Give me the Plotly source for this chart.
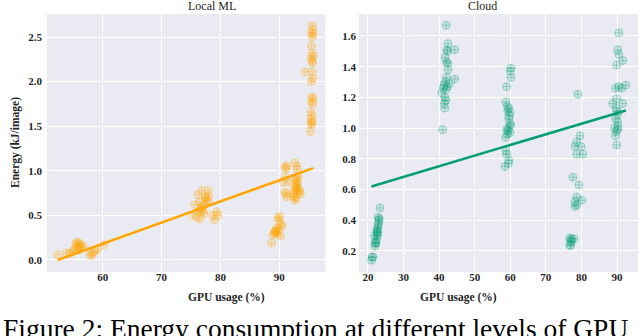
import plotly.graph_objects as go

# ---------------- data ----------------
local_x = [52.3, 53.8, 54.4, 54.9, 55.2, 55.4, 55.6, 55.7, 55.9, 56.0, 56.2, 55.8, 56.4, 56.6,
           57.8, 58.1, 58.3, 58.6, 59.1, 60.2,
           75.7, 76.2, 76.8, 77.9, 77.4, 77.7, 77.9, 76.5, 76.8, 76.2, 77.0, 76.0, 76.5, 77.2,
           78.7, 79.4, 79.6, 79.0, 75.3, 76.9, 77.5, 77.3, 76.6, 78.0,
           88.7, 89.0, 89.2, 89.3, 89.5, 89.6, 89.4, 89.7, 89.8, 90.0, 90.1, 90.3, 90.5, 90.2, 89.9,
           90.7, 91.0, 91.2, 91.3, 91.0, 91.3, 91.2, 91.6, 91.1, 92.7, 93.0, 93.1, 92.7, 93.0,
           92.9, 93.0, 93.2, 92.4, 92.7, 93.5, 92.8, 93.0, 92.9, 93.1, 92.6, 92.8, 93.3, 93.2,
           92.5, 93.6,
           95.6, 95.7, 95.5, 95.8, 95.6, 95.5, 95.6, 95.8, 95.5, 95.6, 95.7, 94.4, 95.6, 95.7,
           95.5, 95.6, 95.7, 95.5, 95.4, 95.6, 95.4, 95.6, 95.5, 95.3, 95.7, 95.5]
local_y = [0.06, 0.08, 0.07, 0.10, 0.12, 0.18, 0.20, 0.15, 0.19, 0.13, 0.17, 0.11, 0.14, 0.16,
           0.06, 0.05, 0.08, 0.10, 0.12, 0.17,
           0.62, 0.73, 0.78, 0.78, 0.71, 0.67, 0.66, 0.65, 0.60, 0.54, 0.54, 0.48, 0.46, 0.52,
           0.50, 0.54, 0.50, 0.45, 0.50, 0.58, 0.69, 0.62, 0.56, 0.72,
           0.19, 0.28, 0.30, 0.32, 0.31, 0.29, 0.34, 0.36, 0.47, 0.44, 0.49, 0.40, 0.38, 0.27, 0.33,
           0.87, 1.04, 1.02, 1.06, 0.76, 0.71, 0.74, 0.87, 0.93, 1.09, 1.05, 1.01, 0.90, 0.86,
           0.82, 0.78, 0.75, 0.71, 0.67, 0.77, 0.80, 0.92, 0.84, 0.88, 0.73, 0.69, 0.80, 0.94,
           0.78, 0.74,
           2.63, 2.58, 2.55, 2.53, 2.50, 2.40, 2.32, 2.29, 2.26, 2.23, 2.21, 2.11, 2.11, 2.04,
           2.00, 1.83, 1.81, 1.77, 1.66, 1.62, 1.58, 1.55, 1.52, 1.44, 1.75, 1.53]
local_fit_x = [52.3, 95.8]
local_fit_y = [0.00, 1.03]

cloud_x = [21.0, 21.2, 21.4, 21.9, 22.0, 22.0, 22.2, 22.3, 22.4, 22.5, 22.6, 22.7, 22.8, 22.9,
           23.0, 23.1, 22.9, 23.2, 23.4, 22.6, 22.8,
           42.0, 42.5, 42.2, 42.4, 44.4, 41.7, 42.1, 42.5, 42.5, 42.1, 44.4, 42.9, 41.4, 41.2,
           41.9, 40.8, 41.6, 41.9, 41.5, 41.6, 41.0, 42.3, 41.8,
           60.2, 60.0, 60.2, 59.0, 58.8, 59.2, 59.6, 59.9, 59.7, 59.6, 59.9, 60.1, 59.0, 59.4,
           58.7, 59.2, 59.9, 59.5, 58.8, 59.0, 59.6, 59.5, 58.5, 59.3,
           79.0, 79.6, 78.7, 78.2, 79.9, 78.7, 80.4, 77.6, 79.3, 78.7, 78.2, 80.1, 78.2, 78.7,
           76.7, 77.0, 77.3, 76.7, 77.0, 77.9, 77.2,
           90.5, 90.2, 90.5, 91.6, 89.9, 89.6, 90.5, 91.3, 92.5, 89.9, 91.6, 88.8, 89.8, 90.2,
           89.6, 90.2, 89.3, 90.2, 89.8, 89.6, 89.9, 90.0, 90.3]
cloud_y = [0.14, 0.16, 0.16, 0.30, 0.25, 0.23, 0.26, 0.25, 0.28, 0.33, 0.31, 0.30, 0.35, 0.37,
           0.38, 0.40, 0.42, 0.41, 0.48, 0.34, 0.32,
           1.67, 1.55, 1.51, 1.50, 1.51, 1.46, 1.43, 1.42, 1.38, 1.33, 1.32, 1.29, 1.28, 1.26,
           1.25, 1.23, 1.20, 1.18, 1.16, 1.13, 0.99, 1.27, 1.30,
           1.39, 1.37, 1.33, 1.27, 1.17, 1.14, 1.13, 1.10, 1.08, 1.06, 1.03, 1.02, 0.99, 0.98,
           0.94, 0.96, 0.97, 1.00, 0.85, 0.83, 0.79, 0.77, 0.75, 1.11,
           1.22, 0.95, 0.91, 0.88, 0.88, 0.83, 0.83, 0.68, 0.63, 0.55, 0.52, 0.53, 0.49, 0.50,
           0.285, 0.27, 0.28, 0.24, 0.235, 0.28, 0.26,
           1.62, 1.51, 1.48, 1.44, 1.41, 1.26, 1.27, 1.26, 1.28, 1.19, 1.16, 1.16, 1.13, 1.09,
           1.06, 1.04, 1.00, 0.99, 0.98, 0.95, 0.89, 1.11, 1.01]
cloud_fit_x = [21.0, 92.5]
cloud_fit_y = [0.62, 1.115]

local_xticks = [60, 70, 80, 90]
local_yticks = [0.0, 0.5, 1.0, 1.5, 2.0, 2.5]
cloud_xticks = [20, 30, 40, 50, 60, 70, 80, 90]
cloud_yticks = [0.2, 0.4, 0.6, 0.8, 1.0, 1.2, 1.4, 1.6]

titles = ["Local ML", "Cloud"]
x_title = "GPU usage (%)"
y_title = "Energy (kJ/image)"
caption = "Figure 2: Energy consumption at different levels of GPU"

# ---------------- figure ----------------
W, H = 640, 336
ORANGE = "#ffa500"
GREEN = "#029e73"
SERIF = "Liberation Serif, Times New Roman, serif"

fig = go.Figure()

def px2x(p):
    return p / W

def py2y(p):
    return 1 - p / H

fig.add_trace(go.Scatter(
    x=local_x, y=local_y, mode="markers", xaxis="x", yaxis="y",
    marker=dict(symbol="circle-cross", size=8, color="rgba(255,165,0,0.14)",
                line=dict(color="rgba(255,165,0,0.30)", width=1)),
    showlegend=False, hoverinfo="skip"))
fig.add_trace(go.Scatter(
    x=local_fit_x, y=local_fit_y, mode="lines", xaxis="x", yaxis="y",
    line=dict(color=ORANGE, width=2.5), showlegend=False, hoverinfo="skip"))
fig.add_trace(go.Scatter(
    x=cloud_x, y=cloud_y, mode="markers", xaxis="x2", yaxis="y2",
    marker=dict(symbol="circle-cross", size=8, color="rgba(2,158,115,0.12)",
                line=dict(color="rgba(2,158,115,0.30)", width=1)),
    showlegend=False, hoverinfo="skip"))
fig.add_trace(go.Scatter(
    x=cloud_fit_x, y=cloud_fit_y, mode="lines", xaxis="x2", yaxis="y2",
    line=dict(color=GREEN, width=2.5), showlegend=False, hoverinfo="skip"))

tickfont = dict(family=SERIF, size=11, color="#262626")
common = dict(showgrid=True, gridcolor="white", gridwidth=1.3, zeroline=False,
              showline=False, ticks="", tickfont=tickfont)

plot_top, plot_bot = 14, 272
fig.update_layout(
    width=W, height=H,
    margin=dict(l=0, r=0, t=0, b=0),
    paper_bgcolor="white", plot_bgcolor="#eaeaf2",
    font=dict(family=SERIF, color="#262626"),
    xaxis=dict(domain=[px2x(47), px2x(325)], range=[50.5, 97.8],
               tickvals=local_xticks, ticktext=[f"<b>{v}</b>" for v in local_xticks],
               anchor="y", ticklabelstandoff=-3, **common),
    yaxis=dict(domain=[py2y(plot_bot), py2y(plot_top)], range=[-0.135, 2.758],
               tickvals=local_yticks, ticktext=[f"<b>{v:.1f}</b>" for v in local_yticks],
               anchor="x", ticklabelstandoff=4, **common),
    xaxis2=dict(domain=[px2x(359), px2x(638)], range=[17.5, 95.9],
                tickvals=cloud_xticks, ticktext=[f"<b>{v}</b>" for v in cloud_xticks],
                anchor="y2", ticklabelstandoff=-3, **common),
    yaxis2=dict(domain=[py2y(plot_bot), py2y(plot_top)], range=[0.063, 1.743],
                tickvals=cloud_yticks, ticktext=[f"<b>{v:.1f}</b>" for v in cloud_yticks],
                anchor="x2", ticklabelstandoff=2, **common),
)

ann = []
for t, cx in zip(titles, (186, 498.5)):
    ann.append(dict(text=t, x=px2x(cx), y=py2y(6), xref="paper", yref="paper",
                    yanchor="middle", showarrow=False,
                    font=dict(family=SERIF, size=12, color="#262626")))
for cx in (186, 498.5):
    ann.append(dict(text=f"<b>{x_title}</b>", x=px2x(cx), y=py2y(297), xref="paper", yref="paper",
                    yanchor="middle", showarrow=False,
                    font=dict(family=SERIF, size=11.5, color="#262626")))
ann.append(dict(text=f"<b>{y_title}</b>", x=px2x(15), y=py2y(143), xref="paper", yref="paper",
                xanchor="center", yanchor="middle", showarrow=False, textangle=-90,
                font=dict(family=SERIF, size=11.5, color="#262626")))
ann.append(dict(text=caption, x=px2x(1), y=py2y(311), xref="paper", yref="paper",
                xanchor="left", yanchor="top", showarrow=False,
                font=dict(family=SERIF, size=27.5, color="black")))
fig.update_layout(annotations=ann)

# remove the browser's default 8px body margin so the figure fills the window
fig.write_html("out.html", config={"displayModeBar": False},
               post_script="document.body.style.margin='0px';")
